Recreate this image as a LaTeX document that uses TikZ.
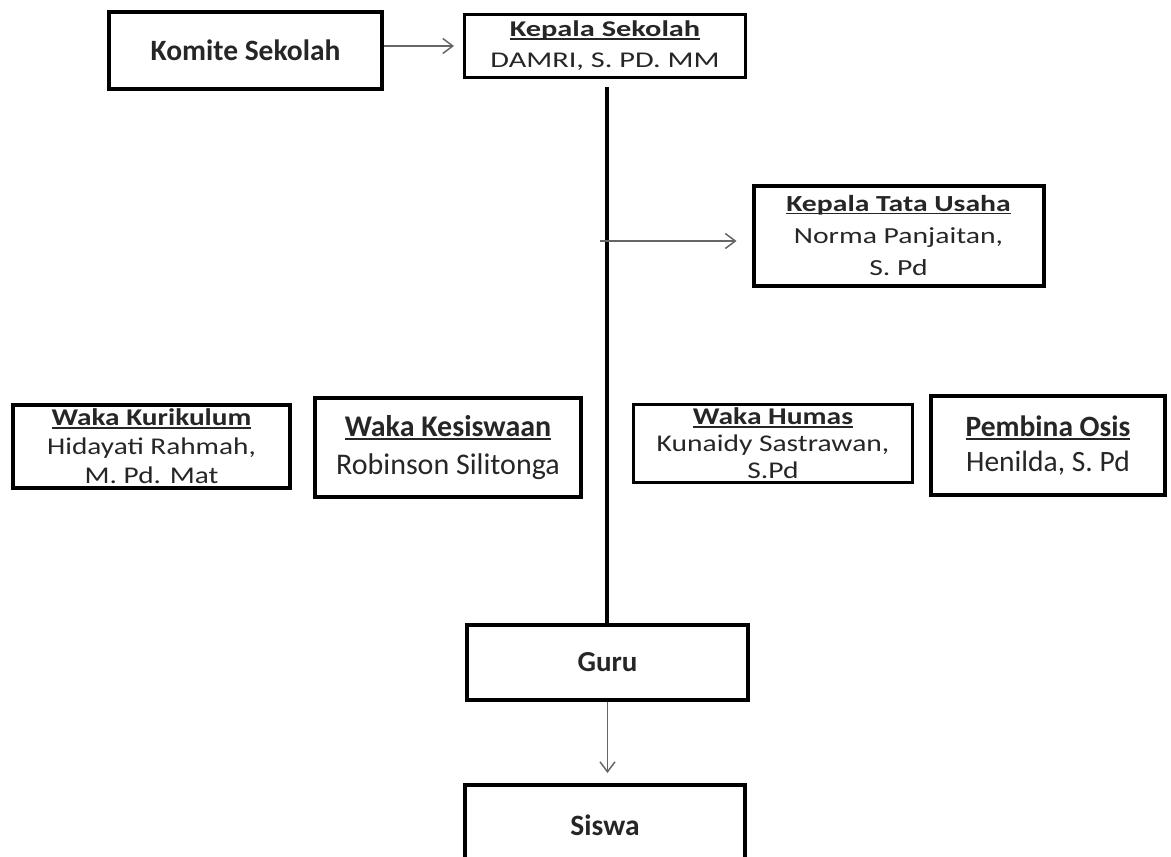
\documentclass[tikz,border=0pt]{standalone}
\usepackage{fontspec}
\setmainfont{Carlito}
\usepackage{xcolor}
\usepackage{tikz}
\usetikzlibrary{positioning, arrows.meta}

\newcommand{\judul}[1]{\textbf{\setbox0\hbox{#1}\rlap{\rule[-0.13em]{\wd0}{0.08em}}\box0}}
\newcommand{\lebar}[1]{\addfontfeature{FakeStretch=#1}}

\tikzset{
    kotak/.style={draw, rectangle, line width=4pt, align=center, inner sep=2pt, text=black!85},
    kotaktipis/.style={kotak, line width=3pt},
    panah/.style={draw=black!60, line width=1.5pt, -{Straight Barb[length=10pt,width=15pt,line width=1.5pt]}},
    garis/.style={line width=3.5pt}
}

\begin{document}
\begin{tikzpicture}[x=1pt, y=-1pt]
    \useasboundingbox (0,0) rectangle (1171,857);
    % Struktur organisasi sekolah
    \node[kotak, minimum width=273pt, minimum height=77pt, font=\fontsize{29.5}{36}\selectfont\bfseries] (komite) at (245.5,50.5) {Komite Sekolah};
    \node[kotaktipis, minimum width=281pt, minimum height=63pt, font=\lebar{1.35}\fontsize{22.5}{31}\selectfont] (kepsek) at (605,46) {\judul{Kepala Sekolah}\\DAMRI, S. PD. MM};
    \node[kotak, minimum width=290pt, minimum height=100pt, font=\lebar{1.29}\fontsize{23}{32}\selectfont] (ktu) at (898.5,235.5) {\judul{Kepala Tata Usaha}\\Norma Panjaitan,\\S. Pd};

    \node[kotak, minimum width=277pt, minimum height=83pt, font=\lebar{1.22}\fontsize{24}{29}\selectfont] (kurikulum) at (151.5,446.5) {\judul{Waka Kurikulum}\\Hidayati Rahmah,\\M. Pd. Mat};
    \node[kotak, minimum width=266pt, minimum height=99pt, font=\fontsize{30}{38}\selectfont] (kesiswaan) at (448,447.5) {\judul{Waka Kesiswaan}\\Robinson Silitonga};
    \node[kotaktipis, minimum width=279pt, minimum height=78pt, font=\lebar{1.23}\fontsize{24}{27}\selectfont] (humas) at (773,443.5) {\judul{Waka Humas}\\Kunaidy Sastrawan,\\S.Pd};
    \node[kotak, minimum width=234pt, minimum height=99pt, font=\fontsize{29.5}{35}\selectfont] (pembina) at (1048,445.5) {\judul{Pembina Osis}\\Henilda, S. Pd};

    \node[kotak, minimum width=281pt, minimum height=75pt, font=\fontsize{29}{36}\selectfont\bfseries] (guru) at (607.5,662.5) {Guru};
    \node[kotak, minimum width=280pt, minimum height=80pt, font=\fontsize{29.5}{36}\selectfont\bfseries] (siswa) at (605,825) {Siswa};

    \coordinate (atas) at (607,87);
    \coordinate (cabang) at (600,241);
    \draw[garis] (atas) -- (atas |- guru.north);
    \draw[panah, shorten >=9pt] (komite.east |- kepsek.west) -- (kepsek.west);
    \draw[panah, shorten >=15pt] (cabang) -- (cabang -| ktu.west);
    \draw[panah, shorten >=10pt] (guru.south) -- (guru.south |- siswa.north);
\end{tikzpicture}
\end{document}
